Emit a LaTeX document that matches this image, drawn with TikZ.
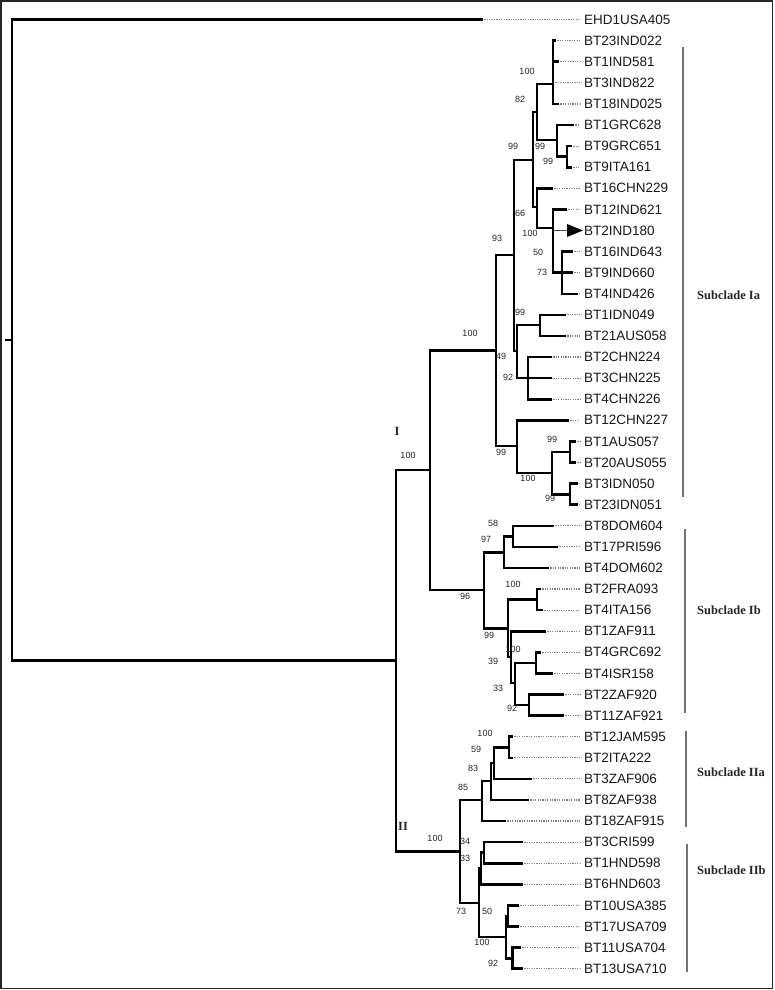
\documentclass[tikz,border=0pt]{standalone}
\usepackage{fontspec}
\setmainfont{Liberation Sans}
\newfontfamily\serifb{Liberation Serif}
\begin{document}
\begin{tikzpicture}[x=1pt,y=-1pt,
  branch/.style={line width=2.6pt,black,line cap=rect},
  leader/.style={black!50,line width=1.1pt,dash pattern=on 1.2pt off 1.2pt},
  leaf/.style={anchor=west,inner sep=0pt,text=black!90,font=\fontsize{13.5}{13.5}\selectfont},
  boot/.style={inner sep=0pt,text=black!85,font=\fontsize{9}{9}\selectfont},
  clade/.style={inner sep=0pt,text=black!85,font=\serifb\bfseries\fontsize{12.5}{12.5}\selectfont},
  cladebar/.style={black!55,line width=1.3pt},
  frame/.style={black!85,line width=1.6pt}]
\useasboundingbox (0,0) rectangle (774,990);
\fill[white] (0,0) rectangle (774,990);
\draw[frame] (1,1) rectangle (772.5,988.5);

% ---------- internal nodes ----------
\coordinate (r) at (12,340);
\coordinate (rs) at (6,340);
\coordinate (g0) at (396,660.7);
\coordinate (cI) at (430,470);
\coordinate (cII) at (460,851.5);
\coordinate (ia) at (496,350.5);
\coordinate (ib) at (484,590);
\coordinate (b) at (514,255);
\coordinate (h) at (517,446);
\coordinate (c) at (533,160);
\coordinate (k) at (517,351);
\coordinate (na) at (537,112);
\coordinate (d) at (537,207);
\coordinate (indn) at (553,84);
\coordinate (e) at (557,140);
\coordinate (f2) at (567,156.6);
\coordinate (f) at (553,228);
\coordinate (g) at (562,272.7);
\coordinate (m1) at (540,325);
\coordinate (chn) at (528,378.1);
\coordinate (i) at (552,473);
\coordinate (j) at (570,452);
\coordinate (kk) at (570,494.2);
\coordinate (mm) at (504,552.5);
\coordinate (nn) at (513,536.4);
\coordinate (o) at (508,628.5);
\coordinate (p) at (537,599.6);
\coordinate (q) at (511,657);
\coordinate (rr) at (515,683);
\coordinate (s) at (536,662.9);
\coordinate (tt) at (529,705);
\coordinate (v) at (482,800);
\coordinate (w) at (491,781);
\coordinate (xx) at (494,763);
\coordinate (yy) at (509,747.3);
\coordinate (z) at (479,903);
\coordinate (ab) at (481,868.5);
\coordinate (aa) at (484,852.6);
\coordinate (ac) at (506,937);
\coordinate (ad) at (508,916);
\coordinate (ae) at (512.5,958.2);

% ---------- tip ends ----------
\coordinate (t0) at (482,19.6);
\coordinate (t1) at (555,40.7);
\coordinate (t2) at (558,61.8);
\coordinate (t3) at (553,82.9);
\coordinate (t4) at (558,104.0);
\coordinate (t5) at (573,125.0);
\coordinate (t6) at (571,146.1);
\coordinate (t7) at (571,167.2);
\coordinate (t8) at (552,188.3);
\coordinate (t9) at (566,209.4);
\coordinate (t10) at (567,230.5);
\coordinate (a10) at (583,230.5);
\coordinate (t11) at (572,251.6);
\coordinate (t12) at (572,272.7);
\coordinate (t13) at (577,293.8);
\coordinate (t14) at (565,314.9);
\coordinate (t15) at (565,336.0);
\coordinate (t16) at (551,357.0);
\coordinate (t17) at (551,378.1);
\coordinate (t18) at (551,399.2);
\coordinate (t19) at (568,420.3);
\coordinate (t20) at (575,441.4);
\coordinate (t21) at (575,462.5);
\coordinate (t22) at (577,483.6);
\coordinate (t23) at (577,504.7);
\coordinate (t24) at (553,525.8);
\coordinate (t25) at (557,546.9);
\coordinate (t26) at (548,568.0);
\coordinate (t27) at (540,589.0);
\coordinate (t28) at (542,610.1);
\coordinate (t29) at (545,631.2);
\coordinate (t30) at (540,652.3);
\coordinate (t31) at (552,673.4);
\coordinate (t32) at (563,694.5);
\coordinate (t33) at (563,715.6);
\coordinate (t34) at (512,736.7);
\coordinate (t35) at (512,757.8);
\coordinate (t36) at (531,778.9);
\coordinate (t37) at (528,800.0);
\coordinate (t38) at (505,821.0);
\coordinate (t39) at (522,842.1);
\coordinate (t40) at (522,863.2);
\coordinate (t41) at (522,884.3);
\coordinate (t42) at (518,905.4);
\coordinate (t43) at (518,926.5);
\coordinate (t44) at (520,947.6);
\coordinate (t45) at (522,968.7);

% ---------- leaf labels ----------
\node[leaf] (l0) at (584,19.6) {EHD1USA405};
\node[leaf] (l1) at (584,40.7) {BT23IND022};
\node[leaf] (l2) at (584,61.8) {BT1IND581};
\node[leaf] (l3) at (584,82.9) {BT3IND822};
\node[leaf] (l4) at (584,104.0) {BT18IND025};
\node[leaf] (l5) at (584,125.0) {BT1GRC628};
\node[leaf] (l6) at (584,146.1) {BT9GRC651};
\node[leaf] (l7) at (584,167.2) {BT9ITA161};
\node[leaf] (l8) at (584,188.3) {BT16CHN229};
\node[leaf] (l9) at (584,209.4) {BT12IND621};
\node[leaf] (l10) at (584,230.5) {BT2IND180};
\node[leaf] (l11) at (584,251.6) {BT16IND643};
\node[leaf] (l12) at (584,272.7) {BT9IND660};
\node[leaf] (l13) at (584,293.8) {BT4IND426};
\node[leaf] (l14) at (584,314.9) {BT1IDN049};
\node[leaf] (l15) at (584,336.0) {BT21AUS058};
\node[leaf] (l16) at (584,357.0) {BT2CHN224};
\node[leaf] (l17) at (584,378.1) {BT3CHN225};
\node[leaf] (l18) at (584,399.2) {BT4CHN226};
\node[leaf] (l19) at (584,420.3) {BT12CHN227};
\node[leaf] (l20) at (584,441.4) {BT1AUS057};
\node[leaf] (l21) at (584,462.5) {BT20AUS055};
\node[leaf] (l22) at (584,483.6) {BT3IDN050};
\node[leaf] (l23) at (584,504.7) {BT23IDN051};
\node[leaf] (l24) at (584,525.8) {BT8DOM604};
\node[leaf] (l25) at (584,546.9) {BT17PRI596};
\node[leaf] (l26) at (584,568.0) {BT4DOM602};
\node[leaf] (l27) at (584,589.0) {BT2FRA093};
\node[leaf] (l28) at (584,610.1) {BT4ITA156};
\node[leaf] (l29) at (584,631.2) {BT1ZAF911};
\node[leaf] (l30) at (584,652.3) {BT4GRC692};
\node[leaf] (l31) at (584,673.4) {BT4ISR158};
\node[leaf] (l32) at (584,694.5) {BT2ZAF920};
\node[leaf] (l33) at (584,715.6) {BT11ZAF921};
\node[leaf] (l34) at (584,736.7) {BT12JAM595};
\node[leaf] (l35) at (584,757.8) {BT2ITA222};
\node[leaf] (l36) at (584,778.9) {BT3ZAF906};
\node[leaf] (l37) at (584,800.0) {BT8ZAF938};
\node[leaf] (l38) at (584,821.0) {BT18ZAF915};
\node[leaf] (l39) at (584,842.1) {BT3CRI599};
\node[leaf] (l40) at (584,863.2) {BT1HND598};
\node[leaf] (l41) at (584,884.3) {BT6HND603};
\node[leaf] (l42) at (584,905.4) {BT10USA385};
\node[leaf] (l43) at (584,926.5) {BT17USA709};
\node[leaf] (l44) at (584,947.6) {BT11USA704};
\node[leaf] (l45) at (584,968.7) {BT13USA710};

% ---------- leaders ----------
\foreach \n in {0,1,2,3,4,5,6,7,8,9,11,12,13,14,15,16,17,18,19,20,21,22,23,24,25,26,27,28,29,30,31,32,33,34,35,36,37,38,39,40,41,42,43,44,45}{
  \draw[leader] (t\n) -- ([xshift=-4pt]l\n.west);
}

% ---------- branches ----------
\draw[branch] (rs) -- (r);
\draw[branch] (r) |- (t0);
\draw[branch] (r) |- (g0);
\draw[branch] (g0) |- (cI);
\draw[branch] (g0) |- (cII);
\draw[branch] (cI) |- (ia);
\draw[branch] (cI) |- (ib);
\draw[branch] (ia) |- (b);
\draw[branch] (ia) |- (h);
\draw[branch] (b) |- (c);
\draw[branch] (b) |- (k);
\draw[branch] (c) |- (na);
\draw[branch] (c) |- (d);
\draw[branch] (na) |- (indn);
\draw[branch] (na) |- (e);
\draw[branch] (indn) |- (t1);
\draw[branch] (indn) |- (t2);
\draw[branch] (indn) |- (t3);
\draw[branch] (indn) |- (t4);
\draw[branch] (e) |- (t5);
\draw[branch] (e) |- (f2);
\draw[branch] (f2) |- (t6);
\draw[branch] (f2) |- (t7);
\draw[branch] (d) |- (t8);
\draw[branch] (d) |- (f);
\draw[branch] (f) |- (t9);
\draw[branch] (f) |- (g);
\draw[line width=1pt,black!70] (f |- t10) -- (t10);
\fill[black] ([yshift=6.5pt]t10) -- (a10) -- ([yshift=-6.5pt]t10) -- cycle;
\draw[branch] (g) |- (t11);
\draw[branch] (g) |- (t12);
\draw[branch] (g) |- (t13);
\draw[branch] (k) |- (m1);
\draw[branch] (k) |- (chn);
\draw[branch] (m1) |- (t14);
\draw[branch] (m1) |- (t15);
\draw[branch] (chn) |- (t16);
\draw[branch] (chn) |- (t17);
\draw[branch] (chn) |- (t18);
\draw[branch] (h) |- (t19);
\draw[branch] (h) |- (i);
\draw[branch] (i) |- (j);
\draw[branch] (i) |- (kk);
\draw[branch] (j) |- (t20);
\draw[branch] (j) |- (t21);
\draw[branch] (kk) |- (t22);
\draw[branch] (kk) |- (t23);
\draw[branch] (ib) |- (mm);
\draw[branch] (ib) |- (o);
\draw[branch] (mm) |- (nn);
\draw[branch] (mm) |- (t26);
\draw[branch] (nn) |- (t24);
\draw[branch] (nn) |- (t25);
\draw[branch] (o) |- (p);
\draw[branch] (o) |- (q);
\draw[branch] (p) |- (t27);
\draw[branch] (p) |- (t28);
\draw[branch] (q) |- (t29);
\draw[branch] (q) |- (rr);
\draw[branch] (rr) |- (s);
\draw[branch] (rr) |- (tt);
\draw[branch] (s) |- (t30);
\draw[branch] (s) |- (t31);
\draw[branch] (tt) |- (t32);
\draw[branch] (tt) |- (t33);
\draw[branch] (cII) |- (v);
\draw[branch] (cII) |- (z);
\draw[branch] (v) |- (w);
\draw[branch] (v) |- (t38);
\draw[branch] (w) |- (xx);
\draw[branch] (w) |- (t37);
\draw[branch] (xx) |- (yy);
\draw[branch] (xx) |- (t36);
\draw[branch] (yy) |- (t34);
\draw[branch] (yy) |- (t35);
\draw[branch] (z) |- (ab);
\draw[branch] (z) |- (ac);
\draw[branch] (ab) |- (aa);
\draw[branch] (ab) |- (t41);
\draw[branch] (aa) |- (t39);
\draw[branch] (aa) |- (t40);
\draw[branch] (ac) |- (ad);
\draw[branch] (ac) |- (ae);
\draw[branch] (ad) |- (t42);
\draw[branch] (ad) |- (t43);
\draw[branch] (ae) |- (t44);
\draw[branch] (ae) |- (t45);

% ---------- bootstrap values ----------
\node[boot] (bs1) at (470,333) {100};
\node[boot] (bs2) at (497,238) {93};
\node[boot] (bs3) at (513,146) {99};
\node[boot] (bs4) at (520,99) {82};
\node[boot] (bs5) at (527,71) {100};
\node[boot] (bs6) at (540,146) {99};
\node[boot] (bs7) at (548,161) {99};
\node[boot] (bs8) at (520,213) {66};
\node[boot] (bs9) at (530,233) {100};
\node[boot] (bs10) at (538,252) {50};
\node[boot] (bs11) at (542,272) {73};
\node[boot] (bs12) at (520,312) {99};
\node[boot] (bs13) at (501,356) {49};
\node[boot] (bs14) at (508,377) {92};
\node[boot] (bs15) at (552,439) {99};
\node[boot] (bs16) at (501,452) {99};
\node[boot] (bs17) at (528,478) {100};
\node[boot] (bs18) at (550,498) {99};
\node[boot] (bs19) at (408,455) {100};
\node[boot] (bs20) at (493,523) {58};
\node[boot] (bs21) at (486,539) {97};
\node[boot] (bs22) at (465,596) {96};
\node[boot] (bs23) at (513,584) {100};
\node[boot] (bs24) at (489,635) {99};
\node[boot] (bs25) at (513,649) {100};
\node[boot] (bs26) at (493,661) {39};
\node[boot] (bs27) at (498,688) {33};
\node[boot] (bs28) at (512,708) {92};
\node[boot] (bs29) at (485,733) {100};
\node[boot] (bs30) at (476,749) {59};
\node[boot] (bs31) at (473,768) {83};
\node[boot] (bs32) at (463,787) {85};
\node[boot] (bs33) at (435,838) {100};
\node[boot] (bs34) at (465,841) {34};
\node[boot] (bs35) at (465,858) {33};
\node[boot] (bs36) at (461,911) {73};
\node[boot] (bs37) at (487,911) {50};
\node[boot] (bs38) at (482,942) {100};
\node[boot] (bs39) at (493,963) {92};

% ---------- clade labels ----------
\node[clade] (cl1) at (397,431) {I};
\node[clade] (cl2) at (403,826) {II};

\coordinate (ia1) at (683,47);   \coordinate (ia2) at (683,497);
\coordinate (ib1) at (685,529);  \coordinate (ib2) at (685,713);
\coordinate (iia1) at (686,731); \coordinate (iia2) at (686,827);
\coordinate (iib1) at (687,844); \coordinate (iib2) at (687,972);
\draw[cladebar] (ia1) -- (ia2);
\draw[cladebar] (ib1) -- (ib2);
\draw[cladebar] (iia1) -- (iia2);
\draw[cladebar] (iib1) -- (iib2);
\node[clade,anchor=west] (sIa) at (697,295) {Subclade Ia};
\node[clade,anchor=west] (sIb) at (697,610) {Subclade Ib};
\node[clade,anchor=west] (sIIa) at (697,772) {Subclade IIa};
\node[clade,anchor=west] (sIIb) at (697,870) {Subclade IIb};
\end{tikzpicture}
\end{document}
